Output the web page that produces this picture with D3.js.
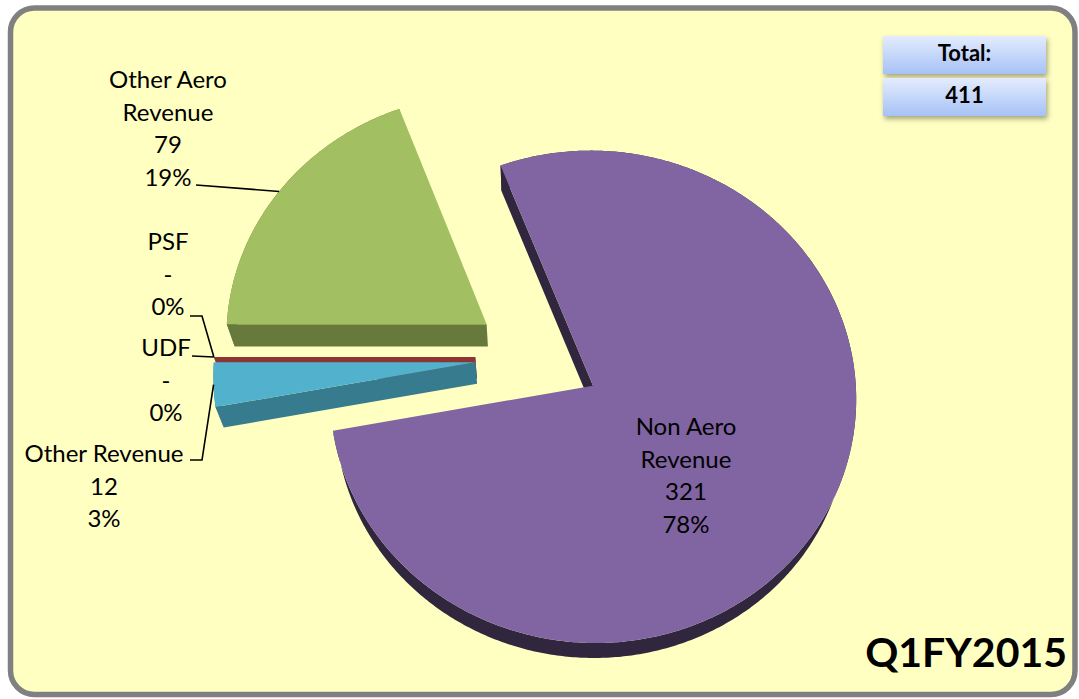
<!DOCTYPE html>
<html>
<head>
<meta charset="utf-8">
<script src="https://cdn.jsdelivr.net/npm/d3@7"></script>
<style>
  html, body { margin: 0; padding: 0; background: #ffffff; }
  svg { display: block; }
</style>
</head>
<body>
<svg id="chart" width="1079" height="699"></svg>
<script>
// ---- data ----
const categories = ["PSF", "UDF", "Other Aero Revenue", "Non Aero Revenue", "Other Revenue"];
const values = [0, 0, 79, 321, 12];
const topColors = ["#4F81BD", "#C0504D", "#A2BF62", "#8165A2", "#52B1CC"];
const sideColors = ["#3B6090", "#8C3532", "#687A3B", "#30273F", "#367C8E"];
const totalTitle = "Total:";
const totalValue = 411;
const periodLabel = "Q1FY2015";

// ---- setup ----
const W = 1079, H = 699;
const svg = d3.select("#chart");
const FONT = "Lato, 'Open Sans', sans-serif";

// frame
svg.append("rect")
  .attr("x", 10.5).attr("y", 8)
  .attr("width", 1064.5).attr("height", 686.5)
  .attr("rx", 24).attr("ry", 24)
  .attr("fill", "#FFFFC2")
  .attr("stroke", "#808080")
  .attr("stroke-width", 5.5);

// ---- 3D pie projection ----
const sinE = 0.93, cosE = Math.sqrt(1 - sinE * sinE);
const camDist = 8.17;     // camera distance in pie radii
const explodeDist = 0.24; // slice explosion in pie radii
const thickness = 0.23;   // pie thickness in pie radii
const camera = [0, camDist * sinE, camDist * cosE];

const xScale = d3.scaleLinear().domain([0, 1]).range([538, 538 + 261.4]);
const yScale = d3.scaleLinear().domain([0, 1]).range([357, 357 + 261.4]);

function project(X, Y, Z) {
  const s = camDist / (camDist - Z * cosE - Y * sinE);
  return [xScale(X * s), yScale((Z * sinE - Y * cosE) * s)];
}

const pie = d3.pie()
  .sort(null)
  .value(d => d.value)
  .startAngle(1.5 * Math.PI)
  .endAngle(3.5 * Math.PI);

const data = categories.map((name, i) => ({
  name, value: values[i], top: topColors[i], side: sideColors[i], index: i
}));
const sum = d3.sum(values);
const arcs = pie(data).map(a => {
  const mid = (a.startAngle + a.endAngle) / 2;
  a.mid = mid;
  a.ox = explodeDist * Math.sin(mid);
  a.oz = -explodeDist * Math.cos(mid);
  a.depthKey = a.oz - 0.5 * Math.cos(mid);
  return a;
});

const rimPoint = (a, theta, Y) => project(a.ox + Math.sin(theta), Y, a.oz - Math.cos(theta));
const apexPoint = (a, Y) => project(a.ox, Y, a.oz);

const line = d3.line();

function arcSamples(a0, a1) {
  const n = Math.max(2, Math.ceil(Math.abs(a1 - a0) / 0.01));
  return d3.range(n + 1).map(k => a0 + (a1 - a0) * k / n);
}

function wallVisible(a, theta, normal) {
  const px = a.ox + 0.5 * Math.sin(theta), pz = a.oz - 0.5 * Math.cos(theta);
  const v = [camera[0] - px, camera[1], camera[2] - pz];
  return normal[0] * v[0] + normal[1] * v[2] > 0;
}

const pieG = svg.append("g");
const order = arcs.slice().sort((p, q) => p.depthKey - q.depthKey);

order.forEach(a => {
  const g = pieG.append("g");
  const a0 = a.startAngle, a1 = a.endAngle;
  const thetas = arcSamples(a0, a1);

  // outer curved wall
  if (a1 > a0) {
    const band = thetas.map(t => rimPoint(a, t, 0))
      .concat(thetas.slice().reverse().map(t => rimPoint(a, t, -thickness)));
    g.append("path").attr("d", line(band) + "Z").attr("fill", a.data.side);
  }

  // radial walls
  const walls = [
    { theta: a0, normal: [-Math.cos(a0), -Math.sin(a0)] },
    { theta: a1, normal: [Math.cos(a1), Math.sin(a1)] }
  ];
  walls.forEach(w => {
    if (!wallVisible(a, w.theta, w.normal)) return;
    const poly = [apexPoint(a, 0), rimPoint(a, w.theta, 0),
                  rimPoint(a, w.theta, -thickness), apexPoint(a, -thickness)];
    g.append("path").attr("d", line(poly) + "Z").attr("fill", a.data.side);
  });

  // top face
  if (a1 > a0) {
    const face = [apexPoint(a, 0)].concat(thetas.map(t => rimPoint(a, t, 0)));
    g.append("path").attr("d", line(face) + "Z").attr("fill", a.data.top);
  }
});

// ---- data labels ----
const fmtValue = v => v === 0 ? "-" : d3.format(",")(v);
const fmtPct = v => Math.round(v / sum * 100) + "%";

const labelLayout = [
  { x: 168, y: 250, wrap: false, leader: [[190, 316], [202, 316]] },
  { x: 166, y: 356, wrap: false, leader: [[192, 356]] },
  { x: 168, y: 88, wrap: true, leader: [[196, 185]] },
  { x: 686, y: 435, wrap: true, leader: null },
  { x: 104, y: 462, wrap: false, leader: [[190, 460], [202, 460]] }
];
const lineStep = 32.5;

const labelG = svg.append("g")
  .attr("font-family", FONT)
  .attr("font-size", 24)
  .attr("fill", "#000");

arcs.forEach((a, i) => {
  const lay = labelLayout[i];
  let nameLines = [a.data.name];
  if (lay.wrap) {
    const k = a.data.name.lastIndexOf(" ");
    nameLines = [a.data.name.slice(0, k), a.data.name.slice(k + 1)];
  }
  const lines = nameLines.concat([fmtValue(a.data.value), fmtPct(a.data.value)]);
  const t = labelG.append("text")
    .attr("text-anchor", "middle");
  lines.forEach((s, k) => {
    t.append("tspan").attr("x", lay.x).attr("y", lay.y + k * lineStep).text(s);
  });
  if (lay.leader) {
    const pts = lay.leader.concat([rimPoint(a, a.mid, 0)]);
    svg.append("path")
      .attr("d", line(pts))
      .attr("fill", "none")
      .attr("stroke", "#000")
      .attr("stroke-width", 1.6);
  }
});

// ---- total box ----
const defs = svg.append("defs");
const grad = defs.append("linearGradient")
  .attr("id", "boxGrad").attr("x1", 0).attr("y1", 0).attr("x2", 0).attr("y2", 1);
grad.append("stop").attr("offset", "0%").attr("stop-color", "#E4ECFD");
grad.append("stop").attr("offset", "100%").attr("stop-color", "#A6C2F6");
const shadow = defs.append("filter").attr("id", "boxShadow")
  .attr("x", "-20%").attr("y", "-40%").attr("width", "140%").attr("height", "180%");
shadow.append("feDropShadow")
  .attr("dx", 1.5).attr("dy", 3).attr("stdDeviation", 2.5)
  .attr("flood-color", "#000").attr("flood-opacity", 0.35);

const boxRows = [totalTitle, d3.format(",")(totalValue)];
boxRows.forEach((txt, k) => {
  const y0 = 36 + k * 42;
  svg.append("rect")
    .attr("x", 883).attr("y", y0).attr("width", 163).attr("height", 38)
    .attr("fill", "url(#boxGrad)")
    .attr("filter", "url(#boxShadow)");
  svg.append("text")
    .attr("x", 964.5).attr("y", y0 + 25)
    .attr("text-anchor", "middle")
    .attr("font-family", FONT)
    .attr("font-weight", "bold")
    .attr("font-size", 22)
    .text(txt);
});

// ---- period label ----
svg.append("text")
  .attr("x", 1067).attr("y", 667)
  .attr("text-anchor", "end")
  .attr("font-family", FONT)
  .attr("font-weight", "bold")
  .attr("font-size", 41)
  .attr("fill", "#000")
  .text(periodLabel);
</script>
</body>
</html>
